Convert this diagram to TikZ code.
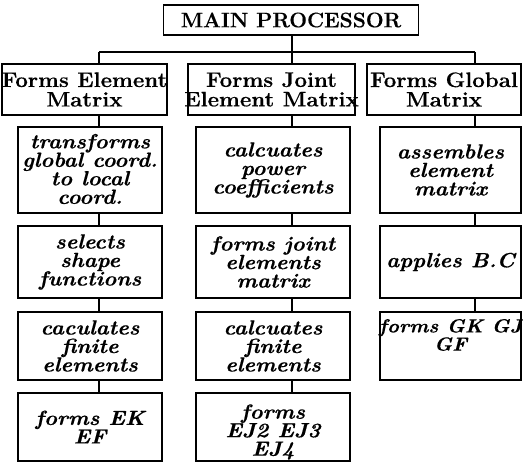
\documentclass[tikz,border=0pt]{standalone}
\usepackage{fontspec}
\setmainfont{Latin Modern Roman}
\newfontfamily\headfont[FakeStretch=1.06,FakeBold=0.4]{Latin Modern Roman}
\newfontfamily\topfont[FakeBold=0.4]{Latin Modern Roman}
\newfontfamily\subfont[FakeStretch=1.07,FakeBold=0.4]{Latin Modern Roman}
\begin{document}
\begin{tikzpicture}[x=1pt,y=-1pt,
  frame/.style={draw,line width=1.5pt,inner sep=0pt},
  headtxt/.style={inner sep=0pt,align=center,
    font=\headfont\fontsize{21}{19.5}\selectfont\bfseries},
  subtxt/.style={inner sep=0pt,align=center,
    font=\subfont\fontsize{20.5}{18.5}\selectfont\bfseries\itshape},
  link/.style={line width=1.5pt}]
\useasboundingbox (0,0) rectangle (523,462);
% main
\node[frame,minimum width=255pt,minimum height=30pt] (main) at (291,20) {};
\node[headtxt,font=\topfont\fontsize{21}{21}\selectfont\bfseries] (mainT) at (main) {MAIN PROCESSOR};
\coordinate (busL) at (99,52);
\coordinate (busM) at (292,52);
\coordinate (busR) at (475,52);
% level 1
\node[frame,minimum width=165pt,minimum height=51pt] (a1) at (84.5,89.5) {};
\node[frame,minimum width=167pt,minimum height=51pt] (b1) at (271.5,89.5) {};
\node[frame,minimum width=154pt,minimum height=51pt] (g1) at (444,89.5) {};
\node[headtxt] (a1T) at (a1) {Forms Element\\Matrix};
\node[headtxt] (b1T) at (b1) {Forms Joint\\Element Matrix};
\node[headtxt] (g1T) at (g1) {Forms Global\\Matrix};
% level 2
\node[frame,minimum width=144pt,minimum height=86pt] (a2) at (90,170) {};
\node[frame,minimum width=154pt,minimum height=86pt] (b2) at (273,170) {};
\node[frame,minimum width=141pt,minimum height=86pt] (g2) at (450.5,170) {};
\node[subtxt] (a2T) at ([yshift=1pt]a2) {transforms\\global coord.\\to local\\coord.};
\node[subtxt] (b2T) at (b2) {calcuates\\power\\coefficients};
\node[subtxt] (g2T) at (g2) {assembles\\element\\matrix};
% level 3
\node[frame,minimum width=144pt,minimum height=72pt] (a3) at (90,262) {};
\node[frame,minimum width=154pt,minimum height=72pt] (b3) at (273,262) {};
\node[frame,minimum width=141pt,minimum height=72pt] (g3) at (450.5,262) {};
\node[subtxt] (a3T) at (a3) {selects\\shape\\functions};
\node[subtxt] (b3T) at (b3) {forms joint\\elements\\matrix};
\node[subtxt] (g3T) at (g3) {applies B.C};
% level 4
\node[frame,minimum width=144pt,minimum height=68pt] (a4) at (90,346) {};
\node[frame,minimum width=154pt,minimum height=68pt] (b4) at (273,346) {};
\node[frame,minimum width=141pt,minimum height=68pt] (g4) at (450.5,346) {};
\node[subtxt] (a4T) at (a4) {caculates\\finite\\elements};
\node[subtxt] (b4T) at (b4) {calcuates\\finite\\elements};
\node[subtxt,font=\subfont\fontsize{19}{16}\selectfont\bfseries\itshape] (g4T) at ([yshift=11pt]g4) {forms GK GJ\\GF};
% level 5
\node[frame,minimum width=144pt,minimum height=68pt] (a5) at (90,427) {};
\node[frame,minimum width=154pt,minimum height=68pt] (b5) at (273,427) {};
\node[subtxt] (a5T) at (a5) {forms EK\\EF};
\node[subtxt] (b5T) at ([yshift=-5pt]b5) {forms\\EJ2 EJ3\\EJ4};
% connectors
\draw[link] (main.south -| busM) -- (busM);
\draw[link] (busL) -- (busR);
\draw[link] (busL) -- (a1.north -| busL);
\draw[link] (busM) -- (b1.north -| busM);
\draw[link] (busR) -- (g1.north -| busR);
\draw[link] (a1.south -| busL) -- (a2.north -| busL);
\draw[link] (a2.south -| busL) -- (a3.north -| busL);
\draw[link] (a3.south -| busL) -- (a4.north -| busL);
\draw[link] (a4.south -| busL) -- (a5.north -| busL);
\draw[link] (b1.south -| busM) -- (b2.north -| busM);
\draw[link] (b2.south -| busM) -- (b3.north -| busM);
\draw[link] (b3.south -| busM) -- (b4.north -| busM);
\draw[link] (b4.south -| busM) -- (b5.north -| busM);
\draw[link] (g1.south -| busR) -- (g2.north -| busR);
\draw[link] (g2.south -| busR) -- (g3.north -| busR);
\draw[link] (g3.south -| busR) -- (g4.north -| busR);
\end{tikzpicture}
\end{document}
